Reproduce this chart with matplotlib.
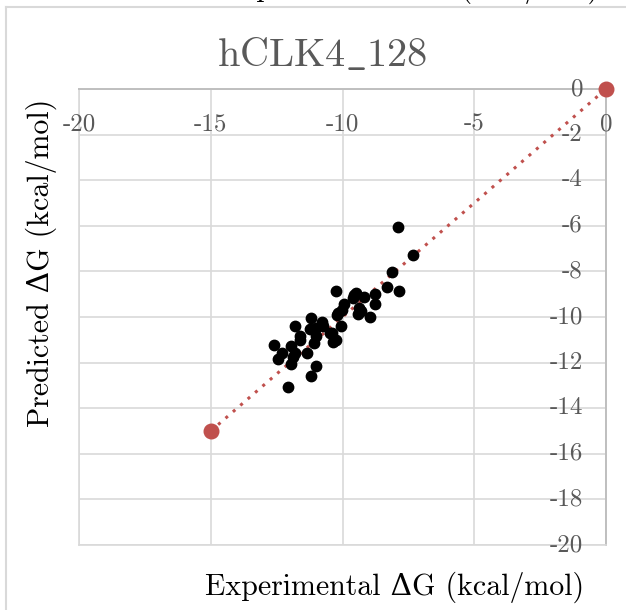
import matplotlib
matplotlib.use("Agg")
import matplotlib.pyplot as plt
from matplotlib.lines import Line2D

plt.rcParams["font.family"] = ["cmr10", "DejaVu Serif"]
plt.rcParams["mathtext.fontset"] = "cm"
plt.rcParams["axes.unicode_minus"] = False

# ── data ──────────────────────────────────────────────────────────────────────
exp_dg = [
    -7.91, -7.31, -8.11, -8.30, -7.86, -10.26, -9.49, -9.61, -9.18, -8.77,
    -8.77, -9.36, -9.40, -8.97, -9.93, -10.03, -10.20, -10.07, -11.21, -10.79,
    -10.73, -11.79, -11.23, -11.02, -11.61, -11.61, -11.02, -11.07, -10.41, -10.35,
    -10.25, -12.59, -12.28, -12.45, -11.95, -11.80, -11.87, -11.97, -11.34, -10.99,
    -11.21, -12.06, -10.16, -10.47, -9.55, -9.30,
]
pred_dg = [
    -6.07, -7.28, -8.01, -8.70, -8.85, -8.86, -8.96, -9.18, -9.14, -9.00,
    -9.44, -9.62, -9.88, -9.99, -9.44, -9.69, -9.91, -10.39, -10.06, -10.23,
    -10.39, -10.38, -10.54, -10.50, -10.82, -11.01, -10.83, -11.15, -10.69, -11.08,
    -11.01, -11.23, -11.56, -11.86, -11.27, -11.59, -11.74, -12.06, -11.59, -12.15,
    -12.57, -13.09, -9.84, -10.72, -9.05, -9.75,
]
ref_x = [-15, 0]
ref_y = [-15, 0]

x_ticks = [-20, -15, -10, -5, 0]
y_ticks = [0, -2, -4, -6, -8, -10, -12, -14, -16, -18, -20]

title = r"$\mathrm{hCLK4\_128}$"
x_label = "Experimental ΔG (kcal/mol)"
y_label = "Predicted ΔG (kcal/mol)"

# ── figure ────────────────────────────────────────────────────────────────────
W, H = 626, 610
fig = plt.figure(figsize=(W / 100, H / 100), dpi=100)
ax = fig.add_axes([79 / W, 1 - 545 / H, 527 / W, 456 / H])

ax.set_xlim(-20, 0)
ax.set_ylim(-20, 0)
ax.set_xticks(x_ticks)
ax.set_yticks(y_ticks)
ax.tick_params(length=0, labelbottom=False, labelleft=False)
ax.grid(True, color="#D9D9D9", linewidth=1.2)
ax.set_axisbelow(True)
for side in ["left", "bottom"]:
    ax.spines[side].set_color("#D9D9D9")
    ax.spines[side].set_linewidth(1.2)
for side in ["top", "right"]:
    ax.spines[side].set_color("#BFBFBF")
    ax.spines[side].set_linewidth(1.4)

# dotted reference line with end markers
ax.plot(ref_x, ref_y, color="#C0504D", linestyle=(0, (1, 2.2)), linewidth=2.2,
        zorder=3)
ax.scatter(ref_x, ref_y, s=110, color="#C0504D", zorder=4, clip_on=False)

# data points
ax.scatter(exp_dg, pred_dg, s=56, color="black", zorder=5)

# tick labels (inside, next to the top / right axis lines like Excel)
xt = ax.get_xaxis_transform()
for v in x_ticks:
    ax.text(v, 1 - 35 / 456, str(v), transform=xt, ha="center", va="center",
            fontsize=18, color="#595959")
yt = ax.get_yaxis_transform()
for v in y_ticks:
    ax.text(1 - 23 / 527, v, str(v), transform=yt, ha="right", va="center",
            fontsize=18, color="#595959")

# titles
fig.text(322 / W, 1 - 55 / H, title, ha="center", va="center",
         fontsize=29, color="#595959")
fig.text(395 / W, 1 - 587 / H, x_label, ha="center", va="center",
         fontsize=21.5, color="black")
fig.text(41 / W, 1 - 263 / H, y_label, ha="center", va="center",
         rotation=90, fontsize=21.5, color="black")

# chart border of this panel and cut-off label of the panel above
fig.add_artist(Line2D([6 / W, 6 / W], [0, 1 - 7 / H], color="#D9D9D9",
                      linewidth=1.5, transform=fig.transFigure))
fig.add_artist(Line2D([6 / W, 1], [1 - 7 / H, 1 - 7 / H], color="#D9D9D9",
                      linewidth=1.5, transform=fig.transFigure))
fig.text(410 / W, 1 + 4 / H, x_label, ha="center", va="baseline",
         fontsize=21.5, color="black")

fig.savefig("out.png", dpi=100)
